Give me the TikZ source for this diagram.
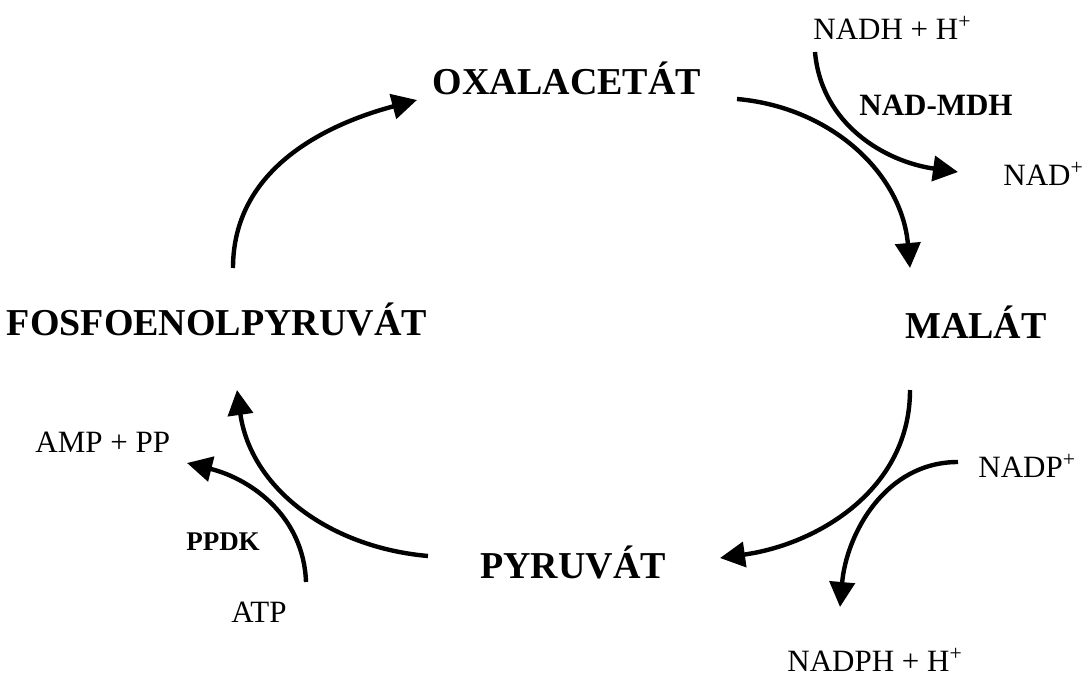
\documentclass[tikz,border=0pt]{standalone}
\usepackage{fontspec}
\setmainfont{Liberation Serif}
\usetikzlibrary{arrows.meta}

\begin{document}
\begin{tikzpicture}[x=0.5pt, y=0.5pt,
        metab/.style={font=\fontsize{19}{22}\selectfont\bfseries, inner sep=0pt, anchor=base},
        cofac/.style={font=\fontsize{15.5}{18}\selectfont, inner sep=0pt, anchor=base west},
        reaction/.style={line width=2.2pt, -{Triangle[length=12.5pt,width=12.5pt]}}]
    \useasboundingbox (0,0) rectangle (1089,-675);
    % metabolity
    \node[metab] (oxa) at (567,-94) {OXALACETÁT};
    \node[metab] (mal) at (976,-338) {MALÁT};
    \node[metab] (pyr) at (573,-578) {PYRUVÁT};
    \node[metab] (fep) at (217,-335) {FOSFOENOLPYRUVÁT};
    % kofaktory a enzymy
    \node[cofac] (nadh) at (813,-39) {NADH + H\textsuperscript{+}};
    \node[cofac] (nad) at (1003,-185) {NAD\textsuperscript{+}};
    \node[metab, font=\fontsize{15.5}{18}\selectfont\bfseries] (mdh) at (936,-115) {NAD-MDH};
    \node[cofac] (nadp) at (978,-477) {NADP\textsuperscript{+}};
    \node[cofac] (nadph) at (787,-671) {NADPH + H\textsuperscript{+}};
    \node[cofac] (amp) at (35,-452) {AMP + PP};
    \node[metab, font=\fontsize{13.5}{16}\selectfont\bfseries] (ppdk) at (223,-550) {PPDK};
    \node[metab, font=\fontsize{15.5}{18}\selectfont] (atp) at (259,-622) {ATP};
    % konce sipek
    \coordinate (fep-out) at (233,-268);
    \coordinate (oxa-in) at (417,-100);
    \coordinate (oxa-out) at (737,-99);
    \coordinate (mal-in) at (910,-268);
    \coordinate (mal-out) at (910,-390);
    \coordinate (pyr-in) at (720,-558);
    \coordinate (pyr-out) at (428,-556);
    \coordinate (fep-in) at (237,-390);
    \coordinate (nadh-out) at (815,-52);
    \coordinate (nad-in) at (958,-172);
    \coordinate (nadp-out) at (958,-462);
    \coordinate (nadph-in) at (840,-607);
    \coordinate (atp-out) at (306,-582);
    \coordinate (amp-in) at (187,-463);
    % cyklus
    \draw[reaction] (fep-out) to[out=90, in=195] (oxa-in);
    \draw[reaction] (oxa-out) to[out=-5, in=95] (mal-in);
    \draw[reaction] (mal-out) to[out=-90, in=8] (pyr-in);
    \draw[reaction] (pyr-out) to[out=175, in=-82] (fep-in);
    % vedlejsi reakce
    \draw[reaction] (nadh-out) to[out=-85, in=172] (nad-in);
    \draw[reaction] (nadp-out) to[out=180, in=85] (nadph-in);
    \draw[reaction] (atp-out) to[out=92, in=-14] (amp-in);
\end{tikzpicture}
\end{document}
